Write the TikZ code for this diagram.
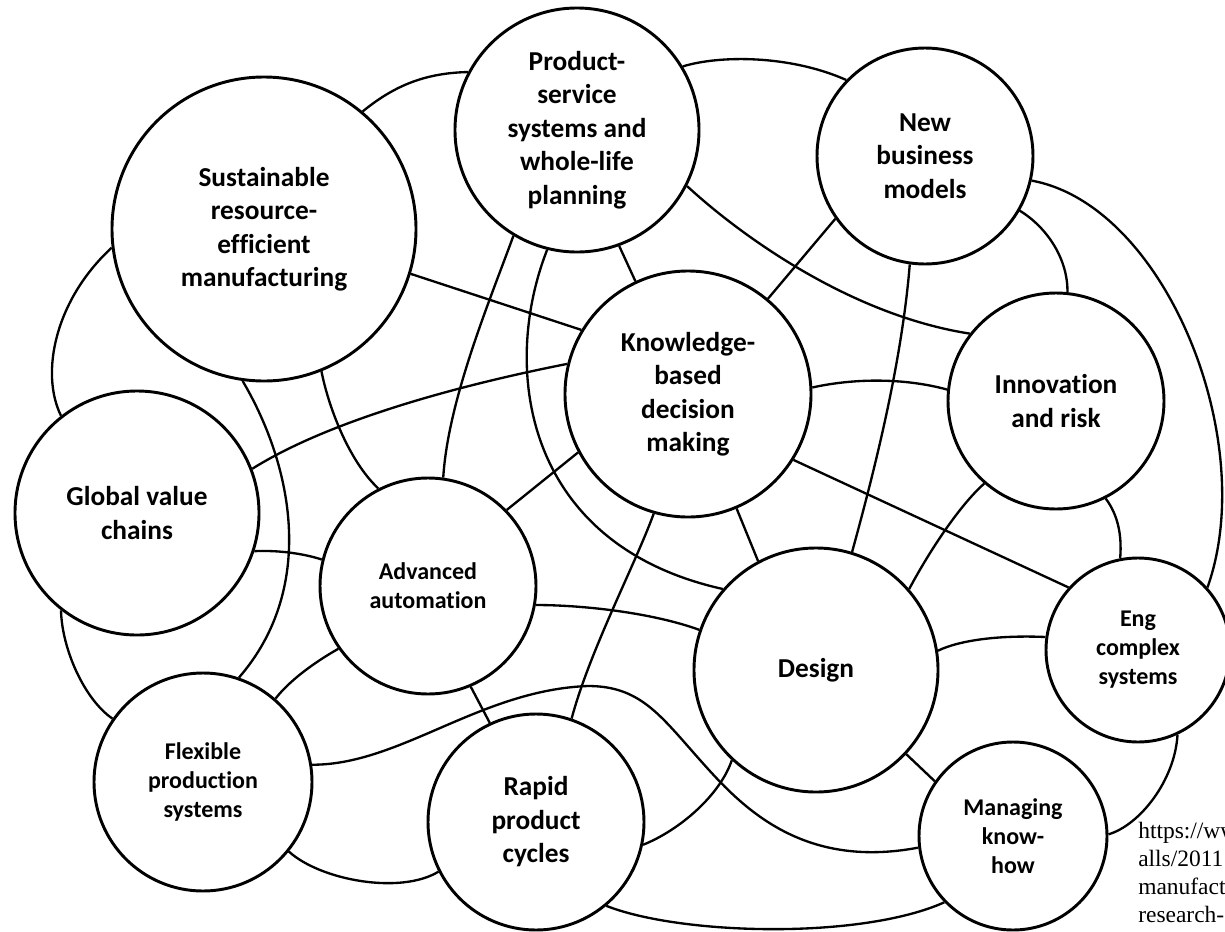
\documentclass[tikz,border=0pt]{standalone}
\usepackage{fontspec}
\setmainfont{Carlito}[Ligatures=NoCommon]
\newfontfamily\urlfont{Liberation Serif}
\begin{document}
\begin{tikzpicture}[x=0.75pt,y=-0.75pt,
  bubble/.style={circle, draw, line width=2.2pt, fill=white, inner sep=0pt, align=center,
    font=\fontsize{20.5pt}{25.1pt}\selectfont\bfseries},
  smallbubble/.style={bubble, font=\fontsize{18pt}{21.75pt}\selectfont\bfseries},
  link/.style={draw, line width=1.75pt, line join=round},
  urltext/.style={inner sep=0pt, align=left, font=\urlfont\fontsize{17.6pt}{21pt}\selectfont}]
\useasboundingbox (0,0) rectangle (1225,932);
\fill[white] (0,0) rectangle (1225,932);

% themes
\node[bubble, minimum size=228pt] (S) at (264,229) {Sustainable\\resource-\\efficient\\manufacturing};
\node[bubble, minimum size=183pt] (P) at (577,130) {Product-\\service\\systems and\\whole-life\\planning};
\node[bubble, minimum size=162pt] (N) at (925,156) {New\\business\\models};
\node[bubble, minimum size=184.5pt] (K) at (688,394) {Knowledge-\\based\\decision\\making};
\node[bubble, minimum size=162pt] (I) at (1056,401) {Innovation\\and risk};
\node[bubble, minimum size=183pt] (G) at (137,513) {Global value\\chains};
\node[smallbubble, minimum size=162pt] (A) at (428,586) {Advanced\\automation};
\node[bubble, minimum size=183pt] (D) at (816,670) {Design};
\node[smallbubble, minimum size=138pt] (E) at (1138,650) {Eng\\complex\\systems};
\node[smallbubble, minimum size=163.5pt] (F) at (203,782) {Flexible\\production\\systems};
\node[bubble, minimum size=162pt] (R) at (536,822) {Rapid\\product\\cycles};
\node[smallbubble, minimum size=141pt] (M) at (1013,836) {Managing\\know-\\how};

% links between themes
\draw[link] (S.50) .. controls (395,85) and (426,73) .. (P.152);
\draw[link] (S.187) .. controls (55,300) and (40,373) .. (G.128);
\draw[link] (S.-17) -- (K.149);
\draw[link] (G.21) .. controls (330,420) and (460,385) .. (K.166);
\draw[link] (S.262) .. controls (295,470) and (315,590) .. (F.71);
\draw[link] (S.-68) .. controls (328,405) and (348,460) .. (A.117);
\draw[link] (P.239) .. controls (490,300) and (448,400) .. (A.82);
\draw[link] (P.256) .. controls (500,370) and (525,545) .. (D.139);
\draw[link] (P.31) .. controls (720,55) and (790,55) .. (N.136);
\draw[link] (P.-27) .. controls (740,235) and (850,315) .. (I.142);
\draw[link] (P.-70) -- (K.115);
\draw[link] (N.215) -- (K.50);
\draw[link] (N.262) .. controls (902,360) and (876,465) .. (D.73);
\draw[link] (N.-30) .. controls (1048,228) and (1068,260) .. (I.84);
\draw[link] (N.-13) .. controls (1165,205) and (1260,440) .. (E.42);
\draw[link] (K.3) .. controls (855,378) and (905,378) .. (I.174);
\draw[link] (K.254) .. controls (635,565) and (590,650) .. (R.71);
\draw[link] (K.-67) -- (D.118);
\draw[link] (A.44) -- (K.208);
\draw[link] (K.-32) -- (E.138);
\draw[link] (I.229) .. controls (960,505) and (930,550) .. (D.41);
\draw[link] (I.-63) .. controls (1118,515) and (1122,535) .. (E.101);
\draw[link] (D.9) .. controls (960,640) and (1000,635) .. (E.172);
\draw[link] (A.-10) .. controls (580,605) and (650,612) .. (D.161);
\coordinate (fm1) at (588,686);
\coordinate (fm2) at (700,760);
\draw[link] (F.9) .. controls (400,765) and (480,690) .. (fm1)
  .. controls (640,686) and (660,715) .. (fm2)
  .. controls (740,805) and (800,870) .. (M.187);
\draw[link] (A.-67) -- (R.115);
\draw[link] (A.215) .. controls (315,662) and (290,680) .. (F.49);
\draw[link] (G.-18) .. controls (280,550) and (305,554) .. (A.166);
\draw[link] (G.232) .. controls (62,650) and (85,700) .. (F.145);
\draw[link] (F.-39) .. controls (320,880) and (400,895) .. (R.207);
\draw[link] (R.-12) .. controls (680,830) and (720,795) .. (D.227);
\draw[link] (R.-50) .. controls (680,935) and (860,940) .. (M.224);
\draw[link] (D.-43) -- (M.145);
\draw[link] (E.-65) .. controls (1175,780) and (1140,825) .. (M.1);

% source note
\node[urltext, anchor=north west] (src) at (1138,822) {https://ww\\alls/2011\\manufact\\research-};
\end{tikzpicture}
\end{document}
